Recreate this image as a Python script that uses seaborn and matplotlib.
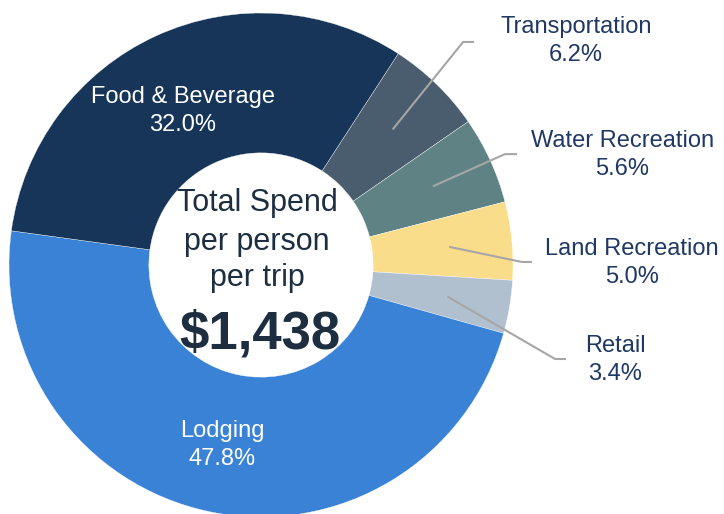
import numpy as np
import matplotlib
matplotlib.use("Agg")
import matplotlib.pyplot as plt
import seaborn as sns

# ---- data ----
categories = ["Transportation", "Water Recreation", "Land Recreation", "Retail", "Lodging", "Food & Beverage"]
shares = [6.2, 5.6, 5.0, 3.4, 47.8, 32.0]
colors = ["#4a5d6e", "#5f8385", "#fadd8a", "#b0c0cf", "#3a82d5", "#163559"]
center_lines = ["Total Spend", "per person", "per trip"]
total_label = "$1,438"

sns.set_theme(style="white")
plt.rcParams["font.family"] = ["Liberation Sans", "DejaVu Sans"]

fig = plt.figure(figsize=(7.24, 5.14), dpi=100)
ax = fig.add_axes([0, 0, 1, 1])
R = 252.0
cx, cy = 261.0, 265.0

start = 57.0
wedges, _ = ax.pie(shares, colors=colors, startangle=start, counterclock=False,
                   radius=1.0, wedgeprops=dict(width=0.555, edgecolor="white", linewidth=0.25))

ax.set_xlim(-cx / R, (724 - cx) / R)
ax.set_ylim(-(514 - cy) / R, cy / R)
ax.set_aspect("equal")
ax.axis("off")

# mid angles
cum = np.cumsum([0] + shares)
mids = [start - 3.6 * (cum[i] + shares[i] / 2) for i in range(len(shares))]

navy = "#1f3864"
# outside labels: elbow, end, text positions (layout)
outside = {
    "Transportation": ((0.802, 0.885), (0.845, 0.885), (1.25, 0.889)),
    "Water Recreation": ((0.968, 0.440), (1.016, 0.440), (1.433, 0.437)),
    "Land Recreation": ((1.036, 0.012), (1.075, 0.012), (1.472, 0.008)),
    "Retail": ((1.167, -0.373), (1.210, -0.373), (1.405, -0.377)),
}
ls = 1.32
for i, cat in enumerate(categories):
    lab = f"{cat}\n{shares[i]:.1f}%"
    if cat in outside:
        elbow, end, tpos = outside[cat]
        a = np.deg2rad(mids[i])
        sx, sy = 0.75 * np.cos(a), 0.75 * np.sin(a)
        ax.plot([sx, elbow[0], end[0]], [sy, elbow[1], end[1]], color="#a6a6a6", lw=1.5,
                solid_capstyle="butt", zorder=5)
        ax.text(tpos[0], tpos[1], lab, ha="center", va="center", fontsize=17,
                color=navy, linespacing=ls)
    elif cat == "Food & Beverage":
        ax.text(-0.31, 0.611, lab, ha="center", va="center", fontsize=17, color="white", linespacing=ls)
    else:
        ax.text(-0.155, -0.714, lab, ha="center", va="center", fontsize=17, color="white", linespacing=ls)

dark = "#1d2e40"
for txt, y in zip(center_lines, [0.246, 0.091, -0.052]):
    ax.text(-0.016, y, txt, ha="center", va="center", fontsize=22, color=dark)
ax.text(-0.005, -0.275, total_label, ha="center", va="center", fontsize=38,
        fontweight="bold", color=dark)

fig.savefig("out.png", dpi=100)
